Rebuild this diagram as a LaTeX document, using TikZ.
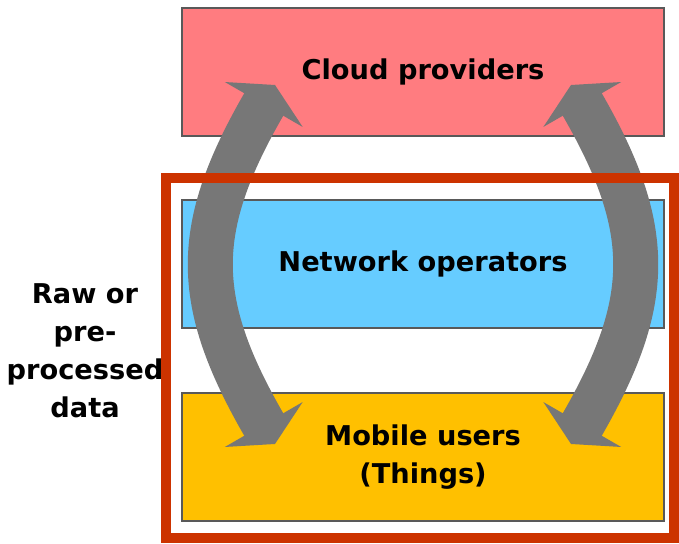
\documentclass[tikz,border=0pt]{standalone}
\usepackage{fontspec}
\setmainfont{DejaVu Sans}
\usetikzlibrary{arrows.meta}
\definecolor{cloudpink}{HTML}{FF7C80}
\definecolor{netblue}{HTML}{66CCFF}
\definecolor{mobyellow}{HTML}{FFC000}
\definecolor{framered}{HTML}{CC3300}
\definecolor{flowgray}{HTML}{777777}
\begin{document}
\begin{tikzpicture}[
  layer/.style={draw=black!65, line width=0.6pt, minimum width=9.64cm, minimum height=2.56cm,
    inner sep=0pt, align=center, font=\fontsize{15.5}{21.6}\selectfont\bfseries},
  flow/.style={draw=flowgray, line width=0.9cm,
    {Triangle[width=1.78cm,length=0.45cm]}-{Triangle[width=1.78cm,length=0.45cm]}}
]
  \useasboundingbox (0,0) rectangle (13.58,10.86);
  \node[layer, fill=cloudpink] (cloud)   at (8.46,9.42) {Cloud providers};
  \node[layer, fill=netblue]   (network) at (8.46,5.58) {Network operators};
  \node[layer, fill=mobyellow] (mobile)  at (8.46,1.72) {Mobile users\\(Things)};
  \node[align=center, font=\fontsize{15.5}{21.6}\selectfont\bfseries] (data) at (1.70,3.84)
    {Raw or\\pre-\\processed\\data};
  % tips of the two curved block arrows
  \coordinate (lup)  at ([shift={(-2.96,-0.26)}]cloud.center);
  \coordinate (ldn)  at ([shift={(-2.96,0.26)}]mobile.center);
  \coordinate (rup)  at ([shift={(2.96,-0.26)}]cloud.center);
  \coordinate (rdn)  at ([shift={(2.96,0.26)}]mobile.center);
  \draw[flow] (ldn) .. controls +(-1.655,2.867) and +(-1.655,-2.867) .. (lup);
  \draw[flow] (rdn) .. controls +(1.655,2.867) and +(1.655,-2.867) .. (rup);
  % frame round the lower two layers
  \node[draw=framered, line width=0.2cm, minimum width=10.16cm,
    minimum height=7.2cm] (edge) at (8.40,3.70) {};
\end{tikzpicture}
\end{document}
